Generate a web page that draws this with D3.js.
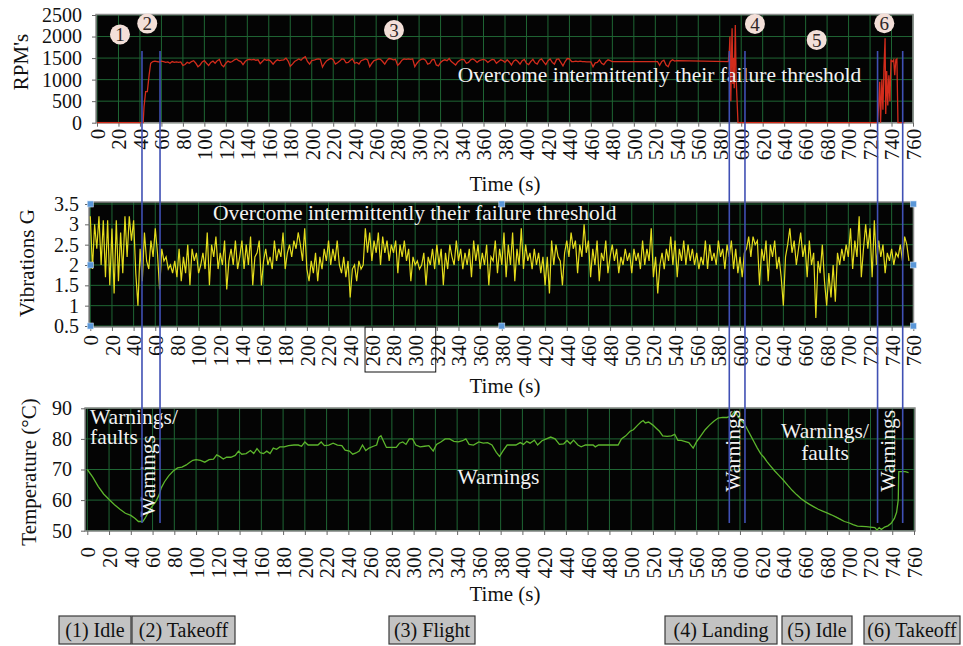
<!DOCTYPE html>
<html>
<head>
<meta charset="utf-8">
<style>
body { margin: 0; background: #fff; }
svg text { font-family: "Liberation Serif", "DejaVu Serif", serif; }
</style>
</head>
<body>
<svg id="chart" width="963" height="646"></svg>
<script src="https://cdn.jsdelivr.net/npm/d3@7"></script>
<script>
// ---- data ----
var timeTicks = d3.range(0, 761, 20);
var rpmTicks = [0, 500, 1000, 1500, 2000, 2500];
var vibTicks = [0.5, 1, 1.5, 2, 2.5, 3, 3.5];
var tempTicks = [50, 60, 70, 80, 90];

// RPM: idle + spool-up, cruise (every 2 s from 50 s), landing and second takeoff
var rpmStart = [[0,0],[43,0],[43.8,370],[45.3,720],[46.9,720],[48.5,1100]];
var rpmCruiseT0 = 50, rpmCruiseStep = 2;
var rpmCruise = [
 1380,1420,1430,1420,1410,1430,1420,1400,1410,1380,1420,1400,1410,1400,1410,1330,1350,1400,1380,1420,1440,1380,1300,1340,1410,
 1440,1380,1330,1400,1430,1380,1440,1470,1340,1300,1380,1430,1400,1420,1460,1480,1440,1420,1350,1420,1460,1470,1460,1470,1450,
 1460,1370,1420,1470,1450,1460,1420,1360,1420,1460,1440,1450,1460,1500,1430,1310,1360,1420,1450,1480,1450,1500,1530,1420,1360,
 1440,1450,1470,1480,1470,1290,1380,1440,1470,1490,1460,1360,1390,1430,1480,1470,1390,1400,1450,1480,1380,1400,1360,1440,1460,
 1480,1460,1300,1380,1440,1460,1480,1470,1420,1360,1440,1490,1480,1460,1470,1330,1380,1450,1480,1470,1480,1470,1480,1300,1380,
 1440,1470,1480,1450,1360,1380,1460,1470,1340,1320,1400,1440,1460,1440,1490,1420,1380,1340,1410,1450,1470,1460,1380,1400,1460,
 1480,1450,1400,1440,1460,1470,1450,1400,1440,1470,1460,1380,1420,1460,1440,1400,1460,1410,1340,1430,1460,1420,1360,1440,1470,
 1380,1350,1420,1470,1390,1360,1450,1480,1410,1350,1440,1480,1400,1360,1470,1480,1400,1320,1420,1490,1480,1420,1420,1430,1420,
 1430,1420,1420,1410,1410,1410,1300,1390,1400,1460,1380,1350,1420,1460,1440,1420,1420,1420,1420,1420,1420,1420,1420,1420,1420,
 1420,1420,1420,1420,1420,1420,1420,1420,1420,1420,1420,1420,1330,1420,1450,1340,1300,1420,1460,1430,1440
];
var rpmEnd = [[588,1420],[589,1700],[589.5,2000],[590.3,500],[591,1600],[591.5,2190],[592.3,900],[593,1500],[593.5,800],
 [594.5,2270],[595.3,1000],[596,600],[597,0],[727,0],[728,400],[729,950],[729.8,0],[731,1000],[732,300],[733,1300],
 [734,1960],[734.6,200],[735.5,1200],[736.5,400],[737.5,1100],[738.5,500],[739.5,1450],[741,1420],[742,1460],[743,1100],
 [744,1460],[745,1480],[746,0],[752,0]];

// Vibrations G, one reading every 2 s from 0 s
var vibStep = 2;
var vibration = [
 3.2,1.9,3.0,2.4,3.2,2.0,3.1,1.7,3.1,1.5,2.9,1.3,3.1,1.6,2.8,1.8,3.2,2.2,3.2,2.6,3.1,1.8,1.0,2.4,
 1.6,2.8,2.1,1.9,2.6,2.2,2.9,2.3,1.4,2.4,2.1,2.2,1.9,2.0,1.8,2.1,1.7,2.4,1.6,2.2,1.8,2.5,1.5,2.4,2.1,2.3,
 1.8,2.0,2.3,1.9,2.8,1.5,2.5,2.2,2.7,1.9,2.3,2.0,2.6,1.4,2.1,2.4,2.0,2.6,1.9,2.2,2.6,1.9,2.5,2.0,2.7,
 1.5,2.2,2.3,2.6,1.5,2.1,2.4,2.0,2.2,1.9,2.6,2.1,2.4,2.2,2.8,1.9,2.3,2.5,2.2,2.6,2.4,2.8,2.5,2.1,2.9,
 1.9,1.6,2.1,1.8,2.3,1.6,2.2,1.9,2.4,2.1,2.6,2.0,2.4,2.1,2.6,2.0,1.8,2.2,1.7,2.1,1.2,1.9,2.0,1.6,2.1,
 1.9,2.0,2.9,2.3,2.8,2.1,2.6,2.3,2.8,2.0,2.7,2.3,2.6,2.1,2.5,2.3,2.6,1.8,2.5,2.2,2.6,2.1,2.4,1.6,2.2,
 2.0,2.1,1.9,2.0,2.3,1.5,2.2,2.0,2.4,1.9,2.5,2.0,2.4,1.5,2.3,1.9,2.5,2.2,2.0,2.6,2.1,2.4,1.9,2.3,2.0,
 2.4,1.7,2.6,2.1,2.5,1.9,2.3,2.0,2.5,1.5,2.2,2.1,2.6,1.8,2.4,2.0,2.8,1.7,2.5,2.0,2.8,1.6,2.4,2.0,2.9,
 1.9,2.5,2.1,2.3,1.9,2.4,2.0,2.3,1.8,2.2,1.5,2.2,1.3,2.6,2.0,2.5,2.2,2.1,1.5,2.3,2.6,2.2,2.8,2.4,2.6,
 1.8,2.5,2.2,3.0,2.3,2.6,1.7,2.4,2.0,2.6,1.6,2.3,2.1,2.6,1.8,2.2,2.5,2.1,2.4,1.8,2.2,2.0,2.4,2.1,2.3,
 1.8,2.4,2.1,2.3,1.9,2.6,2.0,2.4,2.1,2.9,1.7,2.2,1.3,2.0,2.3,1.9,2.4,2.1,2.7,2.0,2.6,1.7,2.4,2.1,2.6,
 2.0,2.5,2.1,2.4,2.0,2.3,1.9,2.2,2.0,2.6,1.9,2.5,2.1,2.3,2.0,2.6,2.2,2.4,1.9,2.5,2.2,2.6,1.9,2.4,1.8,
 2.2,1.7,2.3,2.4,2.7,2.2,2.7,2.5,2.6,1.5,2.4,2.1,2.6,1.6,2.5,2.2,2.6,1.9,2.2,1.7,1.0,2.2,2.5,2.9,2.3,
 2.6,2.0,2.4,2.8,2.2,2.5,1.7,2.6,2.0,2.3,0.7,2.1,1.8,2.5,1.6,1.0,1.8,1.2,2.0,1.1,2.3,2.0,2.4,2.1,2.5,
 2.2,2.9,1.9,2.6,2.2,3.2,1.7,2.4,3.0,2.4,2.9,1.7,3.1,2.0,2.6,2.2,2.5,1.8,2.3,2.1,2.4,2.0,2.3,2.2,2.5,
 2.1,2.7,2.5,2.1
];

// Temperature (°C) as [time, value]
var temperature = [
 [0,70],[5,67.5],[10,64.5],[15,62],[20,60.2],[25,58.5],[30,57],[35,55.7],[40,55],[44,54],[47,53],[51,53],[53,54],
 [56,56],[59,57.7],[63,59.5],[66,61.7],[68,64],[71,66],[75,68],[79,69.5],[83,70.5],[87,70.8],[91,71.5],[94,72.3],
 [97,73],[100,73.2],[104,73],[108,72.4],[112,73.2],[116,73.4],[119,74.8],[122,74.2],[125,73.4],[128,74],[132,74],
 [136,74.6],[139,76],[142,75],[146,75.2],[150,76.2],[153,75.2],[156,76.8],[159,75.5],[162,75.2],[165,76],[168,75.2],
 [171,77],[174,76.6],[177,77.4],[181,77.4],[185,77.8],[190,78],[194,78],[197,77.6],[200,79],[203,78],[208,78],
 [212,78],[215,79],[218,77.8],[222,78],[226,78.6],[230,78],[234,77.8],[237,76.3],[241,76],[244,75],[247,75.4],
 [250,76],[253,78],[256,76.2],[259,77],[263,77.6],[266,78],[268,80.5],[270,81],[272,79.5],[275,77.2],[280,77.2],
 [284,77.2],[287,78.6],[290,79],[293,78.2],[296,80],[299,80],[302,78],[306,77.4],[310,77.6],[314,77.8],[318,76],
 [321,78.2],[325,79],[329,80],[333,80],[337,79.2],[341,79],[345,79.4],[348,80],[351,78.2],[355,78],[360,79],
 [364,78.6],[368,78.8],[372,78],[376,75.6],[379,74.3],[382,76],[386,78],[390,78],[394,78],[398,78.8],[401,78.2],
 [404,79.2],[407,78.6],[411,79.6],[414,78],[418,79.4],[422,80],[426,80.6],[430,80],[434,78.2],[438,78.4],[441,79.5],
 [444,78.4],[447,79.6],[451,78],[454,77.4],[458,78],[462,78],[465,78],[467,77.4],[470,78],[476,78],[482,78],[488,78],
 [491,80],[495,81],[499,82.5],[502,83],[506,84.5],[509,85.5],[511,86],[513,85.2],[516,85.5],[520,84.5],[523,83.5],
 [526,82.5],[529,81],[533,80.8],[537,81],[540,81.5],[543,79.5],[546,79.5],[549,79.2],[553,78.8],[557,77],[560,79],
 [564,81],[568,83],[572,84.5],[576,85.8],[580,86.8],[584,87],[588,87],[592,87.5],[595,89],[598,87.5],[601,86],
 [604,85],[607,83],[610,81],[613,79],[616,77],[619,75.2],[622,74],[625,72.5],[628,71.2],[632,69.5],[636,68],
 [640,66.5],[644,64.8],[648,63.2],[652,61.8],[656,60.5],[660,59.5],[664,58.6],[668,57.8],[672,57],[676,56.4],
 [680,55.8],[684,55.2],[688,54.5],[692,53.8],[696,53],[700,52.6],[704,52],[708,51.5],[712,51.4],[716,51.3],
 [720,51.2],[724,51],[726,50.2],[728,51],[730,50.4],[733,51.2],[736,51.6],[739,52.4],[742,54],[744,56],[745.5,60],
 [746,69.3],[749,69.3],[752,69.3],[755,69]
];

// phase markers and labels
var phaseLabels = ["(1) Idle", "(2) Takeoff", "(3) Flight", "(4) Landing", "(5) Idle", "(6) Takeoff"];
var phaseNumbers = ["1", "2", "3", "4", "5", "6"];
var phaseNumberAt = [[21.4, 2049], [46.8, 2300], [276.6, 2153], [612.8, 2293], [670.3, 1921], [733.3, 2309]];
var boundaryTimes = [41.9, 58.7, 588.9, 603.5, 727.0, 750.4];
var thresholdNote = "Overcome intermittently their failure threshold";

// ---- layout ----
var legendBoxes = [[59, 131], [132, 235], [389, 475], [665, 777], [782, 852], [864, 960]];
var serif = '"Liberation Serif", "DejaVu Serif", serif';

var svg = d3.select("#chart");

var gridColor = "#1f6634";

function panel(cfg) {
  var x = d3.scaleLinear().domain([0, 760]).range([cfg.x0, cfg.x1]);
  var y = d3.scaleLinear().domain(cfg.dom).range([cfg.bottom, cfg.top]);
  var g = svg.append("g");

  g.append("rect")
    .attr("x", cfg.left).attr("y", cfg.rTop)
    .attr("width", cfg.right - cfg.left).attr("height", cfg.rBottom - cfg.rTop)
    .attr("fill", "#040404");

  // grid
  g.selectAll(".vg").data(timeTicks).enter().append("line")
    .attr("x1", function(d) { return x(d); }).attr("x2", function(d) { return x(d); })
    .attr("y1", cfg.rTop).attr("y2", cfg.rBottom)
    .attr("stroke", gridColor).attr("stroke-width", 1);
  g.selectAll(".hg").data(cfg.ticks).enter().append("line")
    .attr("x1", cfg.left).attr("x2", cfg.right)
    .attr("y1", function(d) { return y(d); }).attr("y2", function(d) { return y(d); })
    .attr("stroke", gridColor).attr("stroke-width", 1);

  g.append("rect")
    .attr("x", cfg.left).attr("y", cfg.rTop)
    .attr("width", cfg.right - cfg.left).attr("height", cfg.rBottom - cfg.rTop)
    .attr("fill", "none").attr("stroke", "#8c8c8c").attr("stroke-width", 1.5);

  // x axis
  var xa = g.append("g").attr("transform", "translate(0," + cfg.rBottom + ")")
    .call(d3.axisBottom(x).tickValues(timeTicks).tickSize(4).tickSizeOuter(0));
  xa.attr("font-family", serif);
  xa.select(".domain").remove();
  xa.selectAll("line").attr("stroke", "#666");
  xa.selectAll("text")
    .attr("transform", "rotate(-90)")
    .attr("x", -cfg.labelGap).attr("y", 0).attr("dy", "0.35em")
    .style("text-anchor", "end")
    .style("font-size", "21px").attr("fill", "#111");

  // y axis
  var ya = g.append("g").attr("transform", "translate(" + cfg.left + ",0)")
    .call(d3.axisLeft(y).tickValues(cfg.ticks).tickFormat(d3.format("~g"))
      .tickSize(4).tickPadding(cfg.yPad).tickSizeOuter(0));
  ya.attr("font-family", serif);
  ya.select(".domain").remove();
  ya.selectAll("line").attr("stroke", "#666");
  ya.selectAll("text").style("font-size", "20px").attr("fill", "#111");

  g.append("text")
    .attr("transform", "translate(" + cfg.titleX + "," + cfg.titleY + ") rotate(-90)")
    .attr("text-anchor", "middle").style("font-size", "21px").attr("fill", "#111")
    .text(cfg.title);
  g.append("text")
    .attr("x", 505).attr("y", cfg.timeY)
    .attr("text-anchor", "middle").style("font-size", "21px").attr("fill", "#111")
    .text("Time (s)");

  return { x: x, y: y, g: g };
}

var pRpm = panel({ x0: 97, x1: 913, top: 15, bottom: 122.7, dom: [0, 2500], ticks: rpmTicks,
  left: 96, right: 913, rTop: 14.5, rBottom: 122.7, labelGap: 6, yPad: 10,
  title: "RPM's", titleX: 28, titleY: 62, timeY: 191 });
var pVib = panel({ x0: 90.3, x1: 913.3, top: 204, bottom: 326, dom: [0.5, 3.5], ticks: vibTicks,
  left: 89, right: 913.5, rTop: 202, rBottom: 327, labelGap: 8, yPad: 6,
  title: "Vibrations G", titleX: 34, titleY: 263, timeY: 393 });
var pTemp = panel({ x0: 87.3, x1: 914, top: 408.3, bottom: 530.7, dom: [50, 90], ticks: tempTicks,
  left: 85, right: 915, rTop: 408, rBottom: 531, labelGap: 16, yPad: 9,
  title: "Temperature (\u00B0C)", titleX: 36, titleY: 472, timeY: 601 });

// ---- series ----
var rpmData = rpmStart
  .concat(rpmCruise.map(function(v, i) { return [rpmCruiseT0 + i * rpmCruiseStep, v]; }))
  .concat(rpmEnd);

pRpm.g.append("path")
  .datum(rpmData)
  .attr("fill", "none").attr("stroke", "#d22c1c").attr("stroke-width", 1.3)
  .attr("d", d3.line().x(function(d) { return pRpm.x(d[0]); }).y(function(d) { return pRpm.y(d[1]); }));

pVib.g.append("path")
  .datum(vibration)
  .attr("fill", "none").attr("stroke", "#e4dc1c").attr("stroke-width", 1.2)
  .attr("d", d3.line().x(function(d, i) { return pVib.x(i * vibStep); }).y(function(d) { return pVib.y(d); }));

pTemp.g.append("path")
  .datum(temperature)
  .attr("fill", "none").attr("stroke", "#5cb52c").attr("stroke-width", 1.3)
  .attr("d", d3.line().x(function(d) { return pTemp.x(d[0]); }).y(function(d) { return pTemp.y(d[1]); }));

// ---- annotations ----
var noteStyle = function(sel) { return sel.attr("fill", "#f2f2f2").style("font-size", "21.5px"); };

noteStyle(pRpm.g.append("text").attr("x", pRpm.x(336)).attr("y", pRpm.y(945)).text(thresholdNote));
noteStyle(pVib.g.append("text").attr("x", pVib.x(113.3)).attr("y", pVib.y(3.11)).text(thresholdNote));

// temperature panel notes
noteStyle(pTemp.g.append("text").attr("x", pTemp.x(2.5)).attr("y", pTemp.y(84.9)).text("Warnings/"));
noteStyle(pTemp.g.append("text").attr("x", pTemp.x(2.5)).attr("y", pTemp.y(78.4)).text("faults"));
noteStyle(pTemp.g.append("text").attr("x", pTemp.x(378)).attr("y", pTemp.y(65.3))
  .attr("text-anchor", "middle").text("Warnings"));
noteStyle(pTemp.g.append("text").attr("x", pTemp.x(678.2)).attr("y", pTemp.y(80.4))
  .attr("text-anchor", "middle").text("Warnings/"));
noteStyle(pTemp.g.append("text").attr("x", pTemp.x(678.2)).attr("y", pTemp.y(73.1))
  .attr("text-anchor", "middle").text("faults"));
[[62.3, 54.5], [600, 62.7], [742.5, 62.7]].forEach(function(p) {
  noteStyle(pTemp.g.append("text")
    .attr("transform", "translate(" + pTemp.x(p[0]) + "," + pTemp.y(p[1]) + ") rotate(-90)")
    .text("Warnings"));
});

// black outline over some middle-axis labels
svg.append("rect")
  .attr("x", pVib.x(253.7)).attr("y", 327)
  .attr("width", pVib.x(319) - pVib.x(253.7)).attr("height", 45)
  .attr("fill", "none").attr("stroke", "#111").attr("stroke-width", 1);

// selection handles on the middle chart
var handleT = [0, 380, 760], handleV = [3.5, 2, 0.5];
handleT.forEach(function(t) {
  handleV.forEach(function(v) {
    if (t === 380 && v === 2) return;
    svg.append("rect")
      .attr("x", pVib.x(t) - 3).attr("y", pVib.y(v) - 3)
      .attr("width", 6).attr("height", 6)
      .attr("fill", "#5a97d8").attr("stroke", "#cfe0f4").attr("stroke-width", 0.6);
  });
});

// phase boundary lines across all three charts
svg.selectAll(".bound").data(boundaryTimes).enter().append("line")
  .attr("x1", function(d) { return pRpm.x(d); }).attr("x2", function(d) { return pRpm.x(d); })
  .attr("y1", pRpm.y(1665)).attr("y2", pTemp.y(52.5))
  .attr("stroke", "#4050b4").attr("stroke-width", 1.6);

// circled phase numbers
var num = svg.selectAll(".num").data(phaseNumbers).enter().append("g")
  .attr("transform", function(d, i) {
    return "translate(" + pRpm.x(phaseNumberAt[i][0]) + "," + pRpm.y(phaseNumberAt[i][1]) + ")";
  });
num.append("circle").attr("r", 10).attr("fill", "#f3dfd8");
num.append("text").attr("text-anchor", "middle").attr("dy", "0.35em")
  .style("font-size", "19px").attr("fill", "#2e2626").text(function(d) { return d; });

// legend boxes
var leg = svg.selectAll(".leg").data(phaseLabels).enter().append("g");
leg.append("rect")
  .attr("x", function(d, i) { return legendBoxes[i][0]; }).attr("y", 616)
  .attr("width", function(d, i) { return legendBoxes[i][1] - legendBoxes[i][0]; }).attr("height", 28)
  .attr("fill", "#c3c3c3").attr("stroke", "#3a3a3a").attr("stroke-width", 1.2);
leg.append("text")
  .attr("x", function(d, i) { return (legendBoxes[i][0] + legendBoxes[i][1]) / 2; }).attr("y", 637)
  .attr("text-anchor", "middle").style("font-size", "20px").attr("fill", "#111")
  .text(function(d) { return d; });
</script>
</body>
</html>
